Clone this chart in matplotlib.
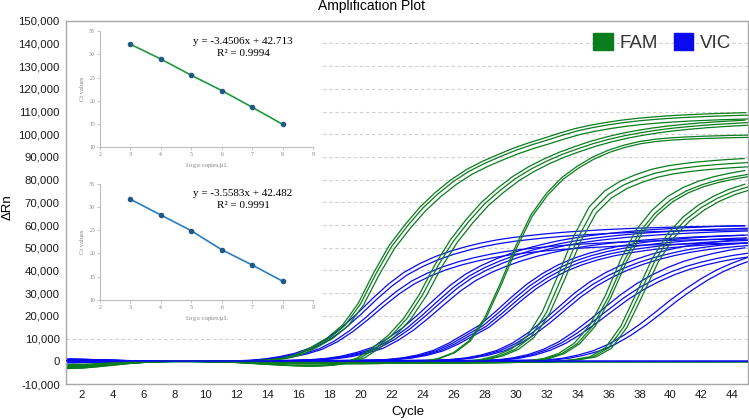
import numpy as np
import matplotlib
matplotlib.use("Agg")
import matplotlib.pyplot as plt
from matplotlib.patches import Patch, Rectangle
from matplotlib.ticker import FuncFormatter, MultipleLocator

plt.rcParams['font.family'] = ['Liberation Sans', 'DejaVu Sans']
plt.rcParams['mathtext.fontset'] = 'stix'

# ---- amplification data (delta Rn, thousands), cycles 1..45
cycles = np.arange(1, 46)

fam_1 = [-2.5, -2.3, -1.8, -1.2, -0.7, -0.3, 0.0,
         0.0, 0.0, 0.0, 0.0, 0.1, 0.2,
         0.5, 1.2, 3.0, 6.3, 10.3, 16.0, 25.5,
         39.0, 51.0, 60.0, 68.0, 74.5, 80.0, 84.5,
         88.0, 91.0, 93.8, 96.2, 98.3, 100.5, 102.5,
         104.0, 105.2, 106.2, 107.0, 107.6, 108.1, 108.5,
         108.8, 109.1, 109.3, 109.5]
fam_2 = [-2.8, -2.5, -2.0, -1.4, -0.8, -0.4, -0.1,
         0.0, 0.0, 0.0, -0.2, -0.5, -0.9,
         -1.3, -1.7, -2.0, -2.1, -1.8, -0.8, 1.5,
         6.0, 11.5, 19.0, 29.5, 42.5, 53.5, 62.3,
         70.0, 76.0, 81.3, 85.5, 89.0, 92.0, 94.5,
         96.8, 98.7, 100.3, 101.6, 102.7, 103.6, 104.3,
         104.9, 105.4, 105.8, 106.2]
fam_3 = [-3.2, -3.0, -2.4, -1.7, -1.0, -0.5, -0.2,
         0.0, 0.0, -0.1, -0.3, -0.5, -0.7,
         -0.9, -1.0, -1.1, -1.1, -1.1, -1.0, -1.0,
         -0.9, -0.8, -0.6, -0.1, 1.2, 3.8, 9.0,
         19.0, 34.0, 50.5, 64.5, 74.0, 81.0, 86.0,
         90.0, 93.0, 95.2, 96.8, 97.8, 98.4, 98.8,
         99.1, 99.3, 99.5, 99.6]
fam_4 = [-2.6, -2.4, -1.9, -1.3, -0.8, -0.4, -0.1,
         0.0, 0.0, -0.1, -0.2, -0.4, -0.6,
         -0.8, -0.9, -1.0, -1.0, -1.0, -1.0, -1.0,
         -1.0, -0.9, -0.9, -0.8, -0.7, -0.5, -0.2,
         0.8, 2.5, 5.5, 11.0, 22.0, 38.0, 55.0,
         68.0, 75.0, 79.3, 82.2, 84.5, 86.0, 87.0,
         87.8, 88.4, 88.9, 89.3]
fam_5 = [-2.4, -2.2, -1.7, -1.2, -0.7, -0.3, -0.1,
         0.0, 0.0, -0.1, -0.2, -0.4, -0.5,
         -0.7, -0.8, -0.9, -0.9, -0.9, -0.9, -0.9,
         -0.9, -0.9, -0.8, -0.8, -0.8, -0.7, -0.7,
         -0.6, -0.5, -0.3, 0.2, 1.2, 3.5, 8.0,
         16.0, 29.0, 45.0, 58.0, 66.5, 72.5, 76.5,
         79.3, 81.3, 82.8, 84.0]
fam_6 = [-2.2, -2.0, -1.6, -1.1, -0.6, -0.3, -0.1,
         0.0, 0.0, -0.1, -0.2, -0.3, -0.5,
         -0.6, -0.7, -0.8, -0.8, -0.8, -0.8, -0.8,
         -0.8, -0.8, -0.7, -0.7, -0.7, -0.7, -0.6,
         -0.6, -0.6, -0.5, -0.4, -0.3, 0.1, 0.8,
         2.0, 6.0, 15.5, 30.0, 45.0, 56.0, 63.5,
         68.8, 72.8, 75.8, 78.0]
fam_ntc = [-1.5, -1.4, -1.1, -0.8, -0.5, -0.3, -0.2,
           -0.2, -0.2, -0.2, -0.3, -0.3, -0.3,
           -0.3, -0.3, -0.3, -0.3, -0.3, -0.3, -0.3,
           -0.3, -0.3, -0.3, -0.3, -0.3, -0.3, -0.3,
           -0.3, -0.3, -0.3, -0.3, -0.3, -0.3, -0.3,
           -0.3, -0.3, -0.3, -0.3, -0.3, -0.3, -0.3,
           -0.3, -0.3, -0.3, -0.3]

vic_1 = [0.8, 0.7, 0.5, 0.35, 0.2, 0.1, 0.05,
         0.0, 0.0, 0.05, 0.1, 0.2, 0.4,
         1.0, 2.0, 3.5, 5.8, 9.5, 14.5, 20.5,
         27.0, 33.0, 38.0, 41.7, 44.7, 47.1, 49.0,
         50.6, 51.9, 52.9, 53.7, 54.4, 55.0, 55.5,
         55.9, 56.3, 56.6, 56.9, 57.1, 57.3, 57.5,
         57.6, 57.7, 57.8, 57.9]
vic_2 = [-0.6, -0.5, -0.4, -0.25, -0.1, 0.0, 0.0,
         0.0, 0.0, 0.0, 0.05, 0.1, 0.15,
         0.2, 0.3, 0.45, 0.7, 1.2, 2.2, 3.8,
         6.0, 9.8, 14.6, 20.4, 26.6, 32.6, 37.5,
         41.2, 44.2, 46.7, 48.8, 50.5, 52.0, 53.2,
         54.2, 55.0, 55.7, 56.3, 56.8, 57.2, 57.6,
         57.9, 58.2, 58.4, 58.6]
vic_3 = [0.4, 0.35, 0.3, 0.2, 0.1, 0.05, 0.0,
         0.0, 0.0, 0.0, 0.0, 0.05, 0.1,
         0.1, 0.15, 0.2, 0.25, 0.3, 0.35, 0.4,
         0.5, 0.8, 1.5, 2.8, 4.8, 8.0, 12.0,
         16.0, 21.8, 28.0, 33.8, 38.5, 42.3, 45.2,
         47.5, 49.3, 50.7, 51.8, 52.7, 53.4, 54.0,
         54.5, 54.9, 55.2, 55.5]
vic_4 = [1.0, 0.9, 0.7, 0.5, 0.3, 0.15, 0.05,
         0.0, 0.0, 0.0, 0.0, 0.05, 0.1,
         0.1, 0.15, 0.15, 0.2, 0.2, 0.25, 0.25,
         0.3, 0.3, 0.35, 0.4, 0.5, 0.8, 1.5,
         2.8, 4.8, 8.0, 12.5, 18.0, 24.0, 30.0,
         35.0, 39.0, 42.3, 45.0, 47.2, 49.0, 50.5,
         51.6, 52.5, 53.2, 53.8]
vic_5 = [-0.3, -0.25, -0.2, -0.1, 0.0, 0.0, 0.0,
         0.0, 0.0, 0.0, 0.0, 0.0, 0.0,
         0.05, 0.05, 0.1, 0.1, 0.1, 0.15, 0.15,
         0.2, 0.2, 0.2, 0.25, 0.25, 0.3, 0.35,
         0.4, 0.6, 1.4, 2.8, 5.0, 8.2, 12.5,
         17.5, 22.8, 28.0, 32.5, 36.2, 39.3, 41.8,
         43.7, 45.3, 46.6, 47.6]
vic_6 = [0.6, 0.5, 0.4, 0.3, 0.2, 0.1, 0.05,
         0.0, 0.0, 0.0, 0.0, 0.0, 0.0,
         0.0, 0.05, 0.05, 0.1, 0.1, 0.1, 0.15,
         0.15, 0.2, 0.2, 0.2, 0.25, 0.25, 0.3,
         0.3, 0.35, 0.4, 0.5, 0.6, 1.3, 2.7,
         4.6, 7.5, 11.5, 16.2, 21.5, 27.0, 32.0,
         36.5, 40.3, 43.3, 45.8]
vic_ntc = [0.3, 0.3, 0.25, 0.2, 0.2, 0.15, 0.1,
           0.1, 0.1, 0.1, 0.1, 0.1, 0.1,
           0.1, 0.1, 0.1, 0.1, 0.1, 0.1, 0.1,
           0.1, 0.1, 0.1, 0.1, 0.1, 0.1, 0.1,
           0.1, 0.1, 0.1, 0.1, 0.1, 0.1, 0.1,
           0.1, 0.1, 0.1, 0.1, 0.1, 0.1, 0.1,
           0.1, 0.1, 0.1, 0.1]

fam_groups = [fam_1, fam_2, fam_3, fam_4, fam_5, fam_6]
vic_groups = [vic_1, vic_2, vic_3, vic_4, vic_5, vic_6]

# replicate wells: cycle offset and relative plateau of each well in a group
fam_rep_shift = [[-0.15, 0.0, 0.2], [-0.2, 0.0, 0.25], [0.0, 0.08],
                 [-0.25, 0.0, 0.2], [-0.2, 0.0, 0.15], [-0.2, 0.0, 0.2]]
fam_rep_scale = [[1.0, 0.99, 0.975], [1.0, 0.99, 0.98], [1.0, 0.99],
                 [1.0, 0.98, 0.96], [1.0, 0.98, 0.97], [1.0, 0.985, 0.97]]
vic_rep_shift = [[-0.2, 0.0, 0.3, 0.5], [-0.25, 0.0, 0.2, 0.45], [-0.3, -0.1, 0.1, 0.3],
                 [-0.2, 0.0, 0.25], [-0.2, 0.0, 0.25], [0.0, 0.4]]
vic_rep_scale = [[1.03, 1.0, 0.93, 0.9], [1.02, 1.0, 0.98, 0.95], [1.0, 0.98, 0.96, 0.94],
                 [1.0, 0.97, 0.95], [1.05, 1.0, 0.97], [1.0, 0.98]]

# ---- standard curves (insets)
log_copies = [3, 4, 5, 6, 7, 8]
fam_ct = [32.2, 29.0, 25.5, 22.2, 18.6, 14.9]
vic_ct = [31.7, 28.3, 24.9, 20.8, 17.5, 14.0]
fam_eq = ["y = -3.4506x + 42.713", "R² = 0.9994"]
vic_eq = ["y = -3.5583x + 42.482", "R² = 0.9991"]

fam_color = '#0a7d1e'
vic_color = '#0a0af0'

fig = plt.figure(figsize=(7.49, 4.2), dpi=100)
ax = fig.add_axes([66 / 749, 36 / 420, 682 / 749, 363.3 / 420])

for i, grp in enumerate(vic_groups):
    for dx, sc in zip(vic_rep_shift[i], vic_rep_scale[i]):
        ax.plot(cycles + dx, np.array(grp) * 1000 * sc, color=vic_color, lw=0.9, zorder=2)
for i, grp in enumerate(fam_groups):
    for dx, sc in zip(fam_rep_shift[i], fam_rep_scale[i]):
        ax.plot(cycles + dx, np.array(grp) * 1000 * sc, color=fam_color, lw=0.9, zorder=2)
ax.plot(cycles, np.array(fam_ntc) * 1000, color=fam_color, lw=1.2, zorder=2)
ax.plot(cycles, np.array(vic_ntc) * 1000, color=vic_color, lw=1.2, zorder=3)

ax.set_xlim(1, 45)
ax.set_ylim(-10000, 150000)
ax.xaxis.set_major_locator(MultipleLocator(2))
ax.yaxis.set_major_locator(MultipleLocator(10000))
ax.yaxis.set_major_formatter(FuncFormatter(lambda v, p: f'{int(round(v)):,}'))
ax.tick_params(length=0, pad=4.5, labelsize=8.2, colors='#1a1a1a')
ax.set_axisbelow(True)
ax.yaxis.grid(True, color='#cfcfcf', ls=(0, (3, 2.5)), lw=0.8)
for s in ax.spines.values():
    s.set_color('#a8a8a8')
    s.set_linewidth(1.0)

# white area behind the pasted standard curves
ax.add_patch(Rectangle((1, 14000), 16.4, 136000, facecolor='white', edgecolor='none', zorder=1))

handles = [Patch(facecolor=fam_color, edgecolor=fam_color),
           Patch(facecolor=vic_color, edgecolor=vic_color)]
ax.legend(handles, ['FAM', 'VIC'], loc='upper right', bbox_to_anchor=(731 / 749, 1 - 33 / 420),
          bbox_transform=fig.transFigure, ncol=2, frameon=False, fontsize=13.5,
          handlelength=1.05, handleheight=1.05, handletextpad=0.35, columnspacing=0.85,
          borderpad=0, borderaxespad=0, labelcolor='#333333')

fig.text(372 / 749, 1 - 10 / 420, 'Amplification Plot', ha='center', va='baseline', fontsize=10)
fig.text(8 / 749, 1 - 207 / 420, 'ΔRn', rotation=90, ha='center', va='center', fontsize=9.5)
fig.text(407.5 / 749, 1 - 411.7 / 420, 'Cycle', ha='center', va='center', fontsize=9.5)

# ---- inset standard curves
def inset(top_px, ct, eq, line_color):
    iax = fig.add_axes([100 / 749, 1 - (top_px + 115.7) / 420, 213 / 749, 115.7 / 420])
    iax.plot(log_copies, ct, color=line_color, lw=1.2, zorder=2)
    iax.plot(log_copies, ct, 'o', color='#1f5a86', ms=3, zorder=3)
    iax.set_xlim(2, 9)
    iax.set_ylim(10, 35)
    iax.set_xticks(range(2, 10))
    iax.set_yticks(range(10, 36, 5))
    for side in ['top', 'right']:
        iax.spines[side].set_visible(False)
    for side in ['left', 'bottom']:
        iax.spines[side].set_color('#bdbdbd')
        iax.spines[side].set_linewidth(0.8)
    iax.tick_params(length=2, width=0.6, color='#bdbdbd', pad=1.5, labelsize=4.2, labelcolor='#808080')
    for lab in iax.get_xticklabels() + iax.get_yticklabels():
        lab.set_family('Liberation Serif')
    iax.set_ylabel('Ct values', fontsize=4.6, color='#808080', family='Liberation Serif', labelpad=3)
    iax.set_xlabel('Log$_{10}$ copies/μL', fontsize=4.6, color='#808080', family='Liberation Serif', labelpad=3)
    iax.text(6.7, 32.9, eq[0], ha='center', va='center', fontsize=8, family='Liberation Serif')
    iax.text(6.7, 30.3, eq[1], ha='center', va='center', fontsize=8, family='Liberation Serif')
    iax.patch.set_alpha(0)
    return iax

inset(31.3, fam_ct, fam_eq, '#1e9a3a')
inset(184, vic_ct, vic_eq, '#2a7cc0')

fig.savefig('out.png', dpi=100)
